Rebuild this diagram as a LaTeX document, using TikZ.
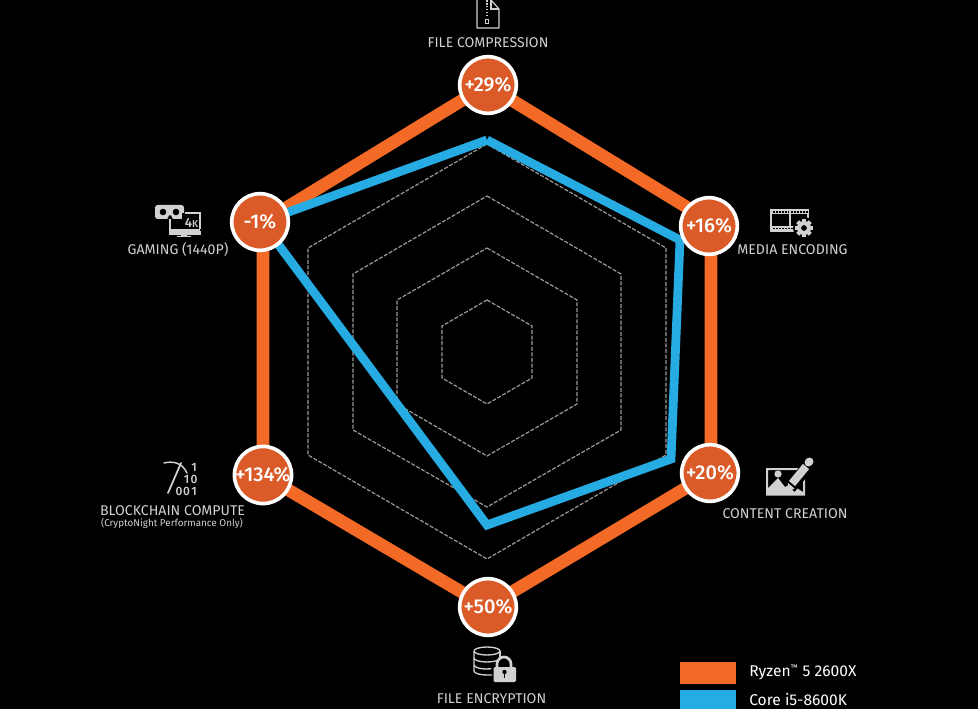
\documentclass[tikz,border=0pt]{standalone}
\usepackage{fontspec}
\setmainfont{Fira Sans}[BoldFont=Fira Sans Medium]
\usetikzlibrary{calc}
\definecolor{ryzen}{HTML}{F26A26}
\definecolor{core}{HTML}{27ABE3}
\definecolor{badge}{HTML}{DA5A28}
\definecolor{lab}{HTML}{CFD1D3}
\definecolor{ring}{HTML}{9A9A9A}
\newcommand{\badgetxt}[1]{\raisebox{-0.9pt}{#1}}
\tikzset{
  x=0.75pt,y=0.75pt,
  badgenode/.style={circle,draw=white,line width=2.7pt,fill=badge,minimum size=42.5pt,inner sep=0pt,text=white,font=\fontsize{15}{15}\selectfont\bfseries},
  axislabel/.style={text=lab,font=\fontsize{10.6}{12}\selectfont,inner sep=0pt},
  ringline/.style={draw=ring,line width=0.9pt,dash pattern=on 3pt off 1.2pt},
  ryzenline/.style={draw=ryzen,line width=9.5pt,miter limit=10},
  coreline/.style={draw=core,line width=6.6pt,line join=miter},
  iconline/.style={draw=lab,line width=0.9pt},
  bitnode/.style={text=lab,font=\fontsize{9}{9}\selectfont\bfseries,inner sep=0pt},
  legendbox/.style={minimum width=42pt,minimum height=17pt,inner sep=0pt},
  legendtext/.style={text=white,font=\fontsize{11.7}{13}\selectfont,inner sep=0pt,anchor=west},
}
\begin{document}
\begin{tikzpicture}
\useasboundingbox (0,0) rectangle (978,-709);
\fill[black] (0,0) rectangle (978,-709);
% rings
\draw[ringline] (487,-144) -- (666,-248) -- (666,-455) -- (487,-559) -- (308,-455) -- (308,-248) -- cycle;
\draw[ringline] (487,-196) -- (621,-274) -- (621,-430) -- (487,-507) -- (353,-430) -- (353,-274) -- cycle;
\draw[ringline] (487,-248) -- (577,-300) -- (577,-404) -- (487,-456) -- (397,-404) -- (397,-300) -- cycle;
\draw[ringline] (487,-300) -- (532,-326) -- (532,-378) -- (487,-404) -- (442,-378) -- (442,-326) -- cycle;
% vertices
\coordinate (oa) at (487,-85);
\coordinate (ob) at (711,-222);
\coordinate (oc) at (711,-473);
\coordinate (od) at (487,-607);
\coordinate (oe) at (263,-475);
\coordinate (of) at (263,-222);
\coordinate (ca) at (487,-140);
\coordinate (cb) at (680,-240);
\coordinate (cc) at (671,-459);
\coordinate (cd) at (487,-525);
\coordinate (ce) at (275,-240);
\coordinate (cf) at (261,-222);
\draw[ryzenline] (oa) -- (ob) -- (oc) -- (od) -- (oe) -- (of) -- cycle;
\draw[coreline] (ca) -- (cb) -- (cc) -- (cd) -- (ce);
\draw[coreline] (ce) -- (cf) -- (ca);
% badges
\node[badgenode] (ba) at (488,-85) {\badgetxt{+29\%}};
\node[badgenode] (bb) at (709,-226) {\badgetxt{+16\%}};
\node[badgenode] (bc) at (710,-473) {\badgetxt{+20\%}};
\node[badgenode] (bd) at (488,-607) {\badgetxt{+50\%}};
\node[badgenode] (be) at (263,-475) {\badgetxt{+134\%}};
\node[badgenode] (bf) at (260,-222) {\badgetxt{-1\%}};
% labels
\node[axislabel] (la) at (488,-42.5) {FILE COMPRESSION};
\node[axislabel] (lb) at (792.5,-249.5) {MEDIA ENCODING};
\node[axislabel] (lc) at (785,-513.5) {CONTENT CREATION};
\node[axislabel] (ld) at (491.5,-698.5) {FILE ENCRYPTION};
\node[axislabel] (le) at (172.5,-510.5) {BLOCKCHAIN COMPUTE};
\node[axislabel,font=\fontsize{7.4}{9}\selectfont] (le2) at (172,-523.5) {(CryptoNight Performance Only)};
\node[axislabel] (lf) at (178,-249.5) {GAMING (1440P)};
% zip file icon
\draw[iconline,line join=round] (477,0) -- (477,-28) -- (499,-28) -- (499,-9) -- (491,0);
\draw[iconline] (491,0) -- (491,-9) -- (499,-9);
\draw[draw=lab,line width=2pt,dash pattern=on 1.2pt off 1pt] (487,0) -- (487,-17);
\draw[iconline,line width=0.7pt] (485.5,-19) rectangle (488.5,-23);
% film + gear
\draw[iconline,line width=1.1pt] (771,-210) rectangle (808,-231);
\fill[lab] (771,-210) rectangle (808,-214.5);
\fill[lab] (771,-226.5) rectangle (796,-231);
\foreach \i in {0,...,11}{\fill[black] (773+3*\i,-211.5) rectangle (774.5+3*\i,-213);}
\foreach \i in {0,...,7}{\fill[black] (773+3*\i,-228) rectangle (774.5+3*\i,-229.5);}
\draw[iconline] (790,-210) -- (790,-227);
\fill[black] (804,-228) circle (11);
\foreach \a in {0,45,...,315}{\fill[lab,rotate around={\a:(804,-228)}] (802,-219) rectangle (806,-223);}
\fill[lab,even odd rule] (804,-228) circle (7) (804,-228) circle (3);
% picture + pencil
\fill[lab,even odd rule] (766,-468) rectangle (805,-495.5) (768,-470) rectangle (803,-493.5);
\fill[lab] (768,-494) -- (768,-488) -- (778,-478) -- (785,-487) -- (790,-484) -- (803,-492) -- (803,-494) -- cycle;
\fill[lab] (778,-474) circle (3.6);
\draw[black,line width=9pt] (790,-488) -- (808,-466);
\draw[lab,line width=6pt] (792,-483.5) -- (806,-466.5);
\fill[lab] (786.5,-493) -- (788,-483) -- (794.5,-488.5) -- cycle;
\draw[lab,line width=6pt,line cap=round] (808.5,-462.5) -- (809.5,-461.5);
% pick + binary
\draw[iconline,line width=1.3pt,line cap=round] (181,-463) -- (168,-493);
\draw[iconline,line width=1.1pt,line cap=round] (164,-463) .. controls (172,-461) and (182,-462) .. (187,-473);
\node[bitnode] (bitA) at (194,-467) {1};
\node[bitnode] (bitB) at (186.5,-479) {1};
\node[bitnode] (bitC) at (194,-479) {0};
\node[bitnode] (bitD) at (179,-491) {0};
\node[bitnode] (bitE) at (186.5,-491) {0};
\node[bitnode] (bitF) at (194,-491) {1};
% VR + monitor
\draw[iconline,line width=1pt] (170,-213) rectangle (200,-234);
\fill[lab] (170,-229) rectangle (200,-234);
\fill[lab] (181,-234) rectangle (187,-236) (177,-236) rectangle (191,-237);
\fill[black] (165,-204) rectangle (187,-222);
\fill[lab,rounded corners=2pt] (155,-205) rectangle (184,-219);
\fill[black] (163,-212) circle (3.3) (176,-212) circle (3.3);
\fill[black] (162,-219.5) -- (167,-219.5) -- (169,-215.5) -- (171,-215.5) -- (173,-219.5) -- cycle;
\fill[black] (182,-213) rectangle (201,-231);
\draw[iconline,line width=1pt] (170,-219) -- (170,-229);
\draw[iconline,line width=1pt] (185,-213) -- (200,-213) -- (200,-229);
\fill[lab] (170,-229) rectangle (200,-234);
\node[text=lab,font=\fontsize{10}{10}\selectfont\bfseries,inner sep=0pt] (fourk) at (191.5,-222.5) {4\fontsize{7.5}{7.5}\selectfont K};
% database + lock
\draw[iconline,line width=1pt] (474,-651) arc[start angle=180,end angle=0,x radius=13,y radius=4] arc[start angle=0,end angle=-180,x radius=13,y radius=4];
\draw[iconline,line width=1pt] (474,-651) -- (474,-671) arc[start angle=180,end angle=270,x radius=13,y radius=4] -- (492,-675);
\draw[iconline,line width=1pt] (500,-651) -- (500,-658);
\draw[iconline,line width=1pt] (474,-658) arc[start angle=180,end angle=360,x radius=13,y radius=4];
\draw[iconline,line width=1pt] (474,-665) arc[start angle=180,end angle=290,x radius=13,y radius=4];
\draw[draw=lab,line width=2pt,fill=black] (497,-668) -- (497,-664) arc[start angle=180,end angle=0,x radius=7,y radius=7] -- (511,-668);
\fill[lab,rounded corners=1pt] (493.5,-667) rectangle (516,-682);
\fill[black] (504.5,-672) circle (2.2);
\fill[black] (503.6,-672) rectangle (505.4,-678);
% legend
\node[legendbox,fill=ryzen] (lgo) at (708,-673) {};
\node[legendbox,fill=core] (lgc) at (708,-701) {};
\node[legendtext] (lto) at (749,-672.5) {Ryzen\textsuperscript{\fontsize{6}{6}\selectfont ™}\hspace{3.2pt}5 2600X};
\node[legendtext] (ltc) at (749,-700) {Core i5-8600K};
\end{tikzpicture}
\end{document}
